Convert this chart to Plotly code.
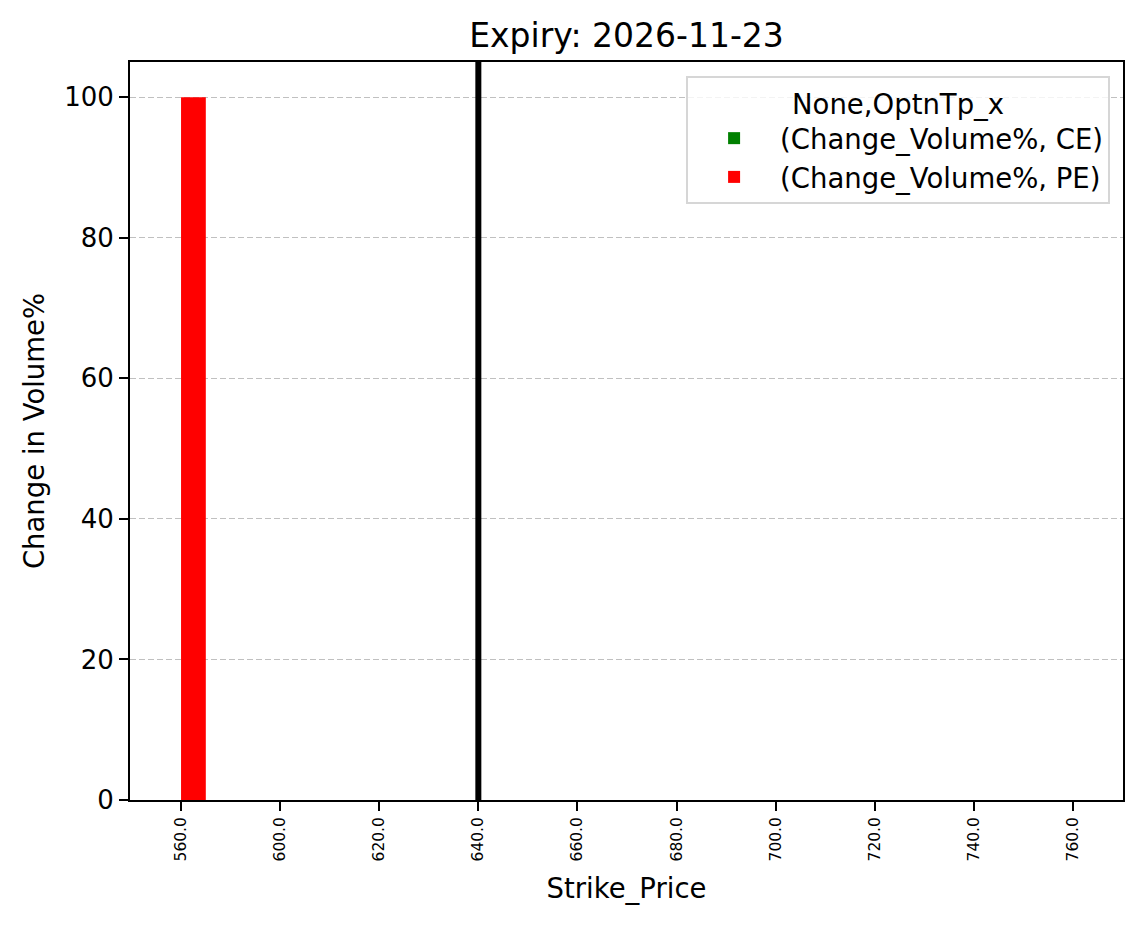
import plotly.graph_objects as go

strikes = [560.0, 600.0, 620.0, 640.0, 660.0, 680.0, 700.0, 720.0, 740.0, 760.0]
ce_change_volume = [0, 0, 0, 0, 0, 0, 0, 0, 0, 0]
pe_change_volume = [100, 0, 0, 0, 0, 0, 0, 0, 0, 0]
marker_strike = 640.0
title_text = "Expiry: 2026-11-23"
y_ticks = [0, 20, 40, 60, 80, 100]

labels = [f"{s:.1f}" for s in strikes]
FONT = "DejaVu Sans"

fig = go.Figure()
fig.add_trace(go.Bar(x=labels, y=ce_change_volume, name="(Change_Volume%, CE)",
                     marker=dict(color="green", line=dict(width=0))))
fig.add_trace(go.Bar(x=labels, y=pe_change_volume, name="(Change_Volume%, PE)",
                     marker=dict(color="red", line=dict(width=0))))

mi = labels.index(f"{marker_strike:.1f}")
fig.add_shape(type="line", xref="x", yref="paper", x0=mi, x1=mi,
              y0=0, y1=1, line=dict(color="black", width=6), layer="above")

fig.update_layout(
    width=1143, height=928,
    margin=dict(l=122, r=28, t=54, b=136),
    paper_bgcolor="white", plot_bgcolor="white",
    font=dict(family=FONT, color="black", size=26),
    barmode="group", bargap=0.5, bargroupgap=0,
    title=dict(text=title_text, x=0.5, xref="paper", xanchor="center",
               y=1 - 27/928, yref="container", yanchor="middle",
               font=dict(size=33, family=FONT, color="black")),
    legend=dict(
        title=dict(text="None,OptnTp_x", side="top center", font=dict(size=27.5)),
        x=0.987, y=0.981, xanchor="right", yanchor="top",
        bgcolor="rgba(255,255,255,0.8)", bordercolor="#d6d6d6", borderwidth=2,
        font=dict(size=27.5), itemwidth=82, tracegroupgap=6,
    ),
    xaxis=dict(
        type="category", range=[-0.515, 9.505],
        tickangle=-90, tickfont=dict(size=15.5),
        ticks="outside", ticklen=9, tickwidth=1.6, tickcolor="black",
        showline=True, linecolor="black", linewidth=1.8, mirror=True,
        showgrid=False,
        title=dict(text="Strike_Price", font=dict(size=27.5), standoff=18),
    ),
    yaxis=dict(
        range=[0, 105], tickvals=y_ticks, tickfont=dict(size=26),
        ticks="outside", ticklen=9, tickwidth=1.6, tickcolor="black",
        showline=True, linecolor="black", linewidth=1.8, mirror=True,
        showgrid=True, gridcolor="#c0c0c0", griddash="6px,3px", gridwidth=1.4,
        zeroline=False,
        title=dict(text="Change in Volume%", font=dict(size=27.5), standoff=12),
    ),
)

fig.write_html("out.html")
